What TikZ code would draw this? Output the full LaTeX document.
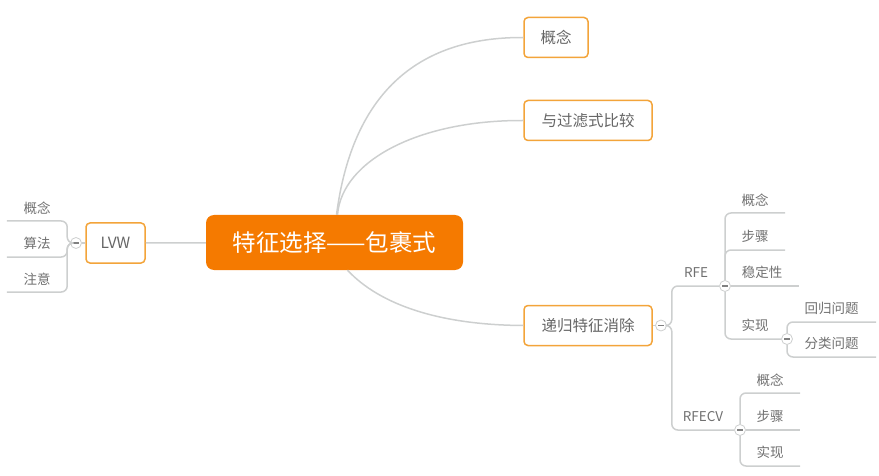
\documentclass[tikz,border=0pt]{standalone}
\usepackage{fontspec}
\setmainfont{Noto Sans CJK SC}
\definecolor{rootorange}{HTML}{F57A00}
\definecolor{boxorange}{HTML}{F3A43A}
\definecolor{linegray}{HTML}{CDCFCF}
\definecolor{textgray}{HTML}{666666}
\definecolor{leafgray}{HTML}{707070}
\begin{document}
\begin{tikzpicture}[x=1pt, y=-1pt,
		root/.style={rectangle, rounded corners=8pt, fill=rootorange, text=white, minimum width=257, minimum height=55, font=\fontsize{23.5}{26}\selectfont},
		topic/.style={rectangle, rounded corners=4pt, draw=boxorange, line width=1.5pt, fill=white, minimum height=40, inner xsep=0pt, text=textgray, font=\fontsize{15.5}{18}\selectfont},
		leaf/.style={anchor=south, minimum height=26, inner sep=0pt, text=leafgray, font=\fontsize{13.5}{16}\selectfont},
		link/.style={draw=linegray, line width=1.5pt, rounded corners=6pt},
		fold/.style={circle, draw=linegray, fill=white, line width=0.8pt, minimum size=11, inner sep=0pt,
			path picture={\draw[line width=1.6pt, gray] ([xshift=-3pt]path picture bounding box.center) -- ([xshift=3pt]path picture bounding box.center);}},
	]
	\useasboundingbox (0,0) rectangle (879,476);

	% Main topics
	\node[root] (root) at (334.5,242.5) {特征选择——包裹式};
	\node[topic, minimum width=64]  (concept) at (556,37.5)  {概念};
	\node[topic, minimum width=128] (compare) at (588,120.5) {与过滤式比较};
	\node[topic, minimum width=128] (rfeall)  at (588,325.5) {递归特征消除};
	\node[topic, minimum width=59]  (lvw)     at (115.5,243) {LVW};

	% Folds
	\node[fold] (lvwfold)  at (76,243)    {};
	\node[fold] (recfold)  at (661,325.5) {};
	\node[fold] (rfefold)  at (725,286)   {};
	\node[fold] (implfold) at (787,339)   {};
	\node[fold] (cvfold)   at (740,430)   {};

	% LVW leaves
	\node[leaf, minimum width=60] (lvwa) at (37,221) {概念};
	\node[leaf, minimum width=60] (lvwb) at (37,257) {算法};
	\node[leaf, minimum width=60] (lvwc) at (37,292) {注意};

	% RFE and RFECV
	\node[leaf, minimum width=48] (rfe)   at (696,286) {RFE};
	\node[leaf, minimum width=62] (rfecv) at (703,430) {RFECV};

	% RFE leaves
	\node[leaf, minimum width=60] (rfea) at (755,213) {概念};
	\node[leaf, minimum width=60] (rfeb) at (755,250) {步骤};
	\node[leaf, minimum width=74] (rfec) at (762,286) {稳定性};
	\node[leaf, minimum width=60] (rfed) at (755,339) {实现};
	\node[leaf, minimum width=89] (impla) at (831.5,322) {回归问题};
	\node[leaf, minimum width=89] (implb) at (831.5,357) {分类问题};

	% RFECV leaves
	\node[leaf, minimum width=60] (cva) at (770,393) {概念};
	\node[leaf, minimum width=60] (cvb) at (770,430) {步骤};
	\node[leaf, minimum width=60] (cvc) at (770,466) {实现};

	% Curves from root
	\draw[link] ([xshift=2pt]root.north) .. controls (352,96) and (415,37) .. (concept.west);
	\draw[link] ([xshift=3pt]root.north) .. controls (342,160) and (420,120) .. (compare.west);
	\draw[link] ([xshift=13pt]root.south) .. controls (380,305) and (440,325) .. (rfeall.west);
	\draw[link] (lvw) -- (root);

	% LVW branch
	\draw[link] (lvw) -- (lvwfold);
	\draw[link] (lvwfold) -| (lvwa.south east) -- (lvwa.south west);
	\draw[link] (lvwfold) -| (lvwb.south east) -- (lvwb.south west);
	\draw[link] (lvwfold) -| (lvwc.south east) -- (lvwc.south west);

	% Recursive elimination branch
	\draw[link] (rfeall) -- (recfold);
	\draw[link] (recfold) -| (rfe.south west) -- (rfefold);
	\draw[link] (recfold) -| (rfecv.south west) -- (cvfold);

	\draw[link] (rfefold) |- (rfea.south east);
	\draw[link] (rfefold) |- (rfeb.south east);
	\draw[link] (rfefold) -- (rfec.south east);
	\draw[link] (rfefold) |- (implfold);
	\draw[link] (implfold) |- (impla.south east);
	\draw[link] (implfold) |- (implb.south east);

	\draw[link] (cvfold) |- (cva.south east);
	\draw[link] (cvfold) -- (cvb.south east);
	\draw[link] (cvfold) |- (cvc.south east);

\end{tikzpicture}
\end{document}
